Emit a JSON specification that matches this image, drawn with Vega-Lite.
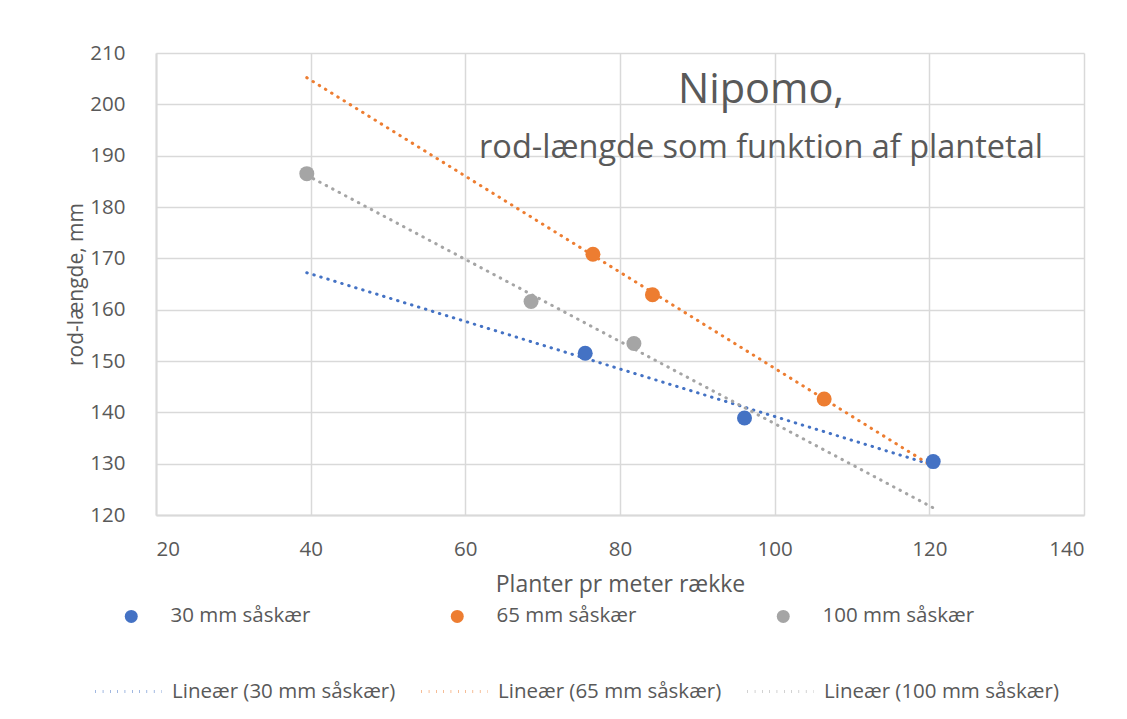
{
  "$schema": "https://vega.github.io/schema/vega-lite/v6.json",
  "autosize": "none",
  "width": 928,
  "height": 462,
  "padding": {"left": 156, "top": 53, "right": 43, "bottom": 204},
  "background": "white",
  "title": {
    "text": "Nipomo,",
    "subtitle": "rod-længde som funktion af plantetal",
    "anchor": "middle",
    "frame": "group",
    "dx": 141,
    "dy": 125,
    "font": "Open Sans",
    "fontSize": 41.5,
    "fontWeight": "normal",
    "color": "#595959",
    "subtitleFont": "Open Sans",
    "subtitleFontSize": 32.5,
    "subtitleColor": "#595959",
    "subtitlePadding": 20
  },
  "datasets": {
    "points": [
      {"series": "30 mm såskær", "x": 75.5, "y": 151.5},
      {"series": "30 mm såskær", "x": 96.1, "y": 138.9},
      {"series": "30 mm såskær", "x": 120.5, "y": 130.4},
      {"series": "65 mm såskær", "x": 76.5, "y": 170.8},
      {"series": "65 mm såskær", "x": 84.2, "y": 162.9},
      {"series": "65 mm såskær", "x": 106.4, "y": 142.6},
      {"series": "100 mm såskær", "x": 39.5, "y": 186.5},
      {"series": "100 mm såskær", "x": 68.5, "y": 161.6},
      {"series": "100 mm såskær", "x": 81.8, "y": 153.4}
    ],
    "trends": [
      {"trend": "Lineær (30 mm såskær)", "x": 39.5, "y": 167.2},
      {"trend": "Lineær (30 mm såskær)", "x": 120.5, "y": 129.7},
      {"trend": "Lineær (65 mm såskær)", "x": 39.5, "y": 205.2},
      {"trend": "Lineær (65 mm såskær)", "x": 120.5, "y": 129.4},
      {"trend": "Lineær (100 mm såskær)", "x": 39.5, "y": 186.2},
      {"trend": "Lineær (100 mm såskær)", "x": 120.5, "y": 121.4}
    ]
  },
  "encoding": {
    "x": {
      "field": "x",
      "type": "quantitative",
      "scale": {"domain": [20, 140], "nice": false, "zero": false},
      "axis": {
        "title": "Planter pr meter række",
        "titleFontSize": 23,
        "values": [20, 40, 60, 80, 100, 120, 140],
        "titlePadding": 14
      }
    },
    "y": {
      "field": "y",
      "type": "quantitative",
      "scale": {"domain": [120, 210], "nice": false, "zero": false},
      "axis": {
        "title": "rod-længde, mm",
        "titleFontSize": 21,
        "values": [120, 130, 140, 150, 160, 170, 180, 190, 200, 210],
        "titlePadding": 3
      }
    }
  },
  "layer": [
    {
      "data": {"name": "trends"},
      "mark": {"type": "line", "strokeWidth": 3, "strokeCap": "round", "strokeDash": [0.5, 6.8]},
      "encoding": {
        "color": {
          "field": "trend",
          "type": "nominal",
          "scale": {
            "domain": ["Lineær (30 mm såskær)", "Lineær (65 mm såskær)", "Lineær (100 mm såskær)"],
            "range": ["#4472C4", "#ED7D31", "#A5A5A5"]
          },
          "legend": {
            "title": null,
            "orient": "none",
            "legendX": -62,
            "legendY": 604,
            "direction": "horizontal",
            "columns": 3,
            "gridAlign": "all",
            "columnPadding": 8,
            "symbolType": "stroke",
            "symbolSize": 4356,
            "symbolStrokeWidth": 3,
            "symbolDash": [0.5, 6.8],
            "labelOffset": 9,
            "labelFont": "Open Sans",
            "labelFontSize": 20.5,
            "labelColor": "#595959",
            "labelLimit": 400
          }
        }
      }
    },
    {
      "data": {"name": "points"},
      "mark": {"type": "point", "filled": true, "opacity": 1, "size": 225, "shape": "circle"},
      "encoding": {
        "color": {
          "field": "series",
          "type": "nominal",
          "scale": {
            "domain": ["30 mm såskær", "65 mm såskær", "100 mm såskær"],
            "range": ["#4472C4", "#ED7D31", "#A5A5A5"]
          },
          "legend": {
            "title": null,
            "orient": "none",
            "legendX": -35,
            "legendY": 553,
            "direction": "horizontal",
            "columns": 3,
            "gridAlign": "all",
            "columnPadding": 124,
            "symbolType": "circle",
            "symbolSize": 169,
            "symbolOpacity": 1,
            "labelOffset": 29,
            "labelFont": "Open Sans",
            "labelFontSize": 20.5,
            "labelColor": "#595959",
            "labelLimit": 400
          }
        }
      }
    }
  ],
  "resolve": {"scale": {"color": "independent"}, "legend": {"color": "independent"}},
  "config": {
    "view": {"stroke": null},
    "axis": {
      "gridColor": "#D9D9D9",
      "gridWidth": 1.5,
      "domainColor": "#D9D9D9",
      "domainWidth": 2,
      "ticks": false,
      "labelFont": "Open Sans",
      "labelFontSize": 20.5,
      "labelColor": "#595959",
      "titleFont": "Open Sans",
      "titleFontWeight": "normal",
      "titleColor": "#595959"
    },
    "axisX": {"labelPadding": 24},
    "axisY": {"labelPadding": 31}
  }
}
